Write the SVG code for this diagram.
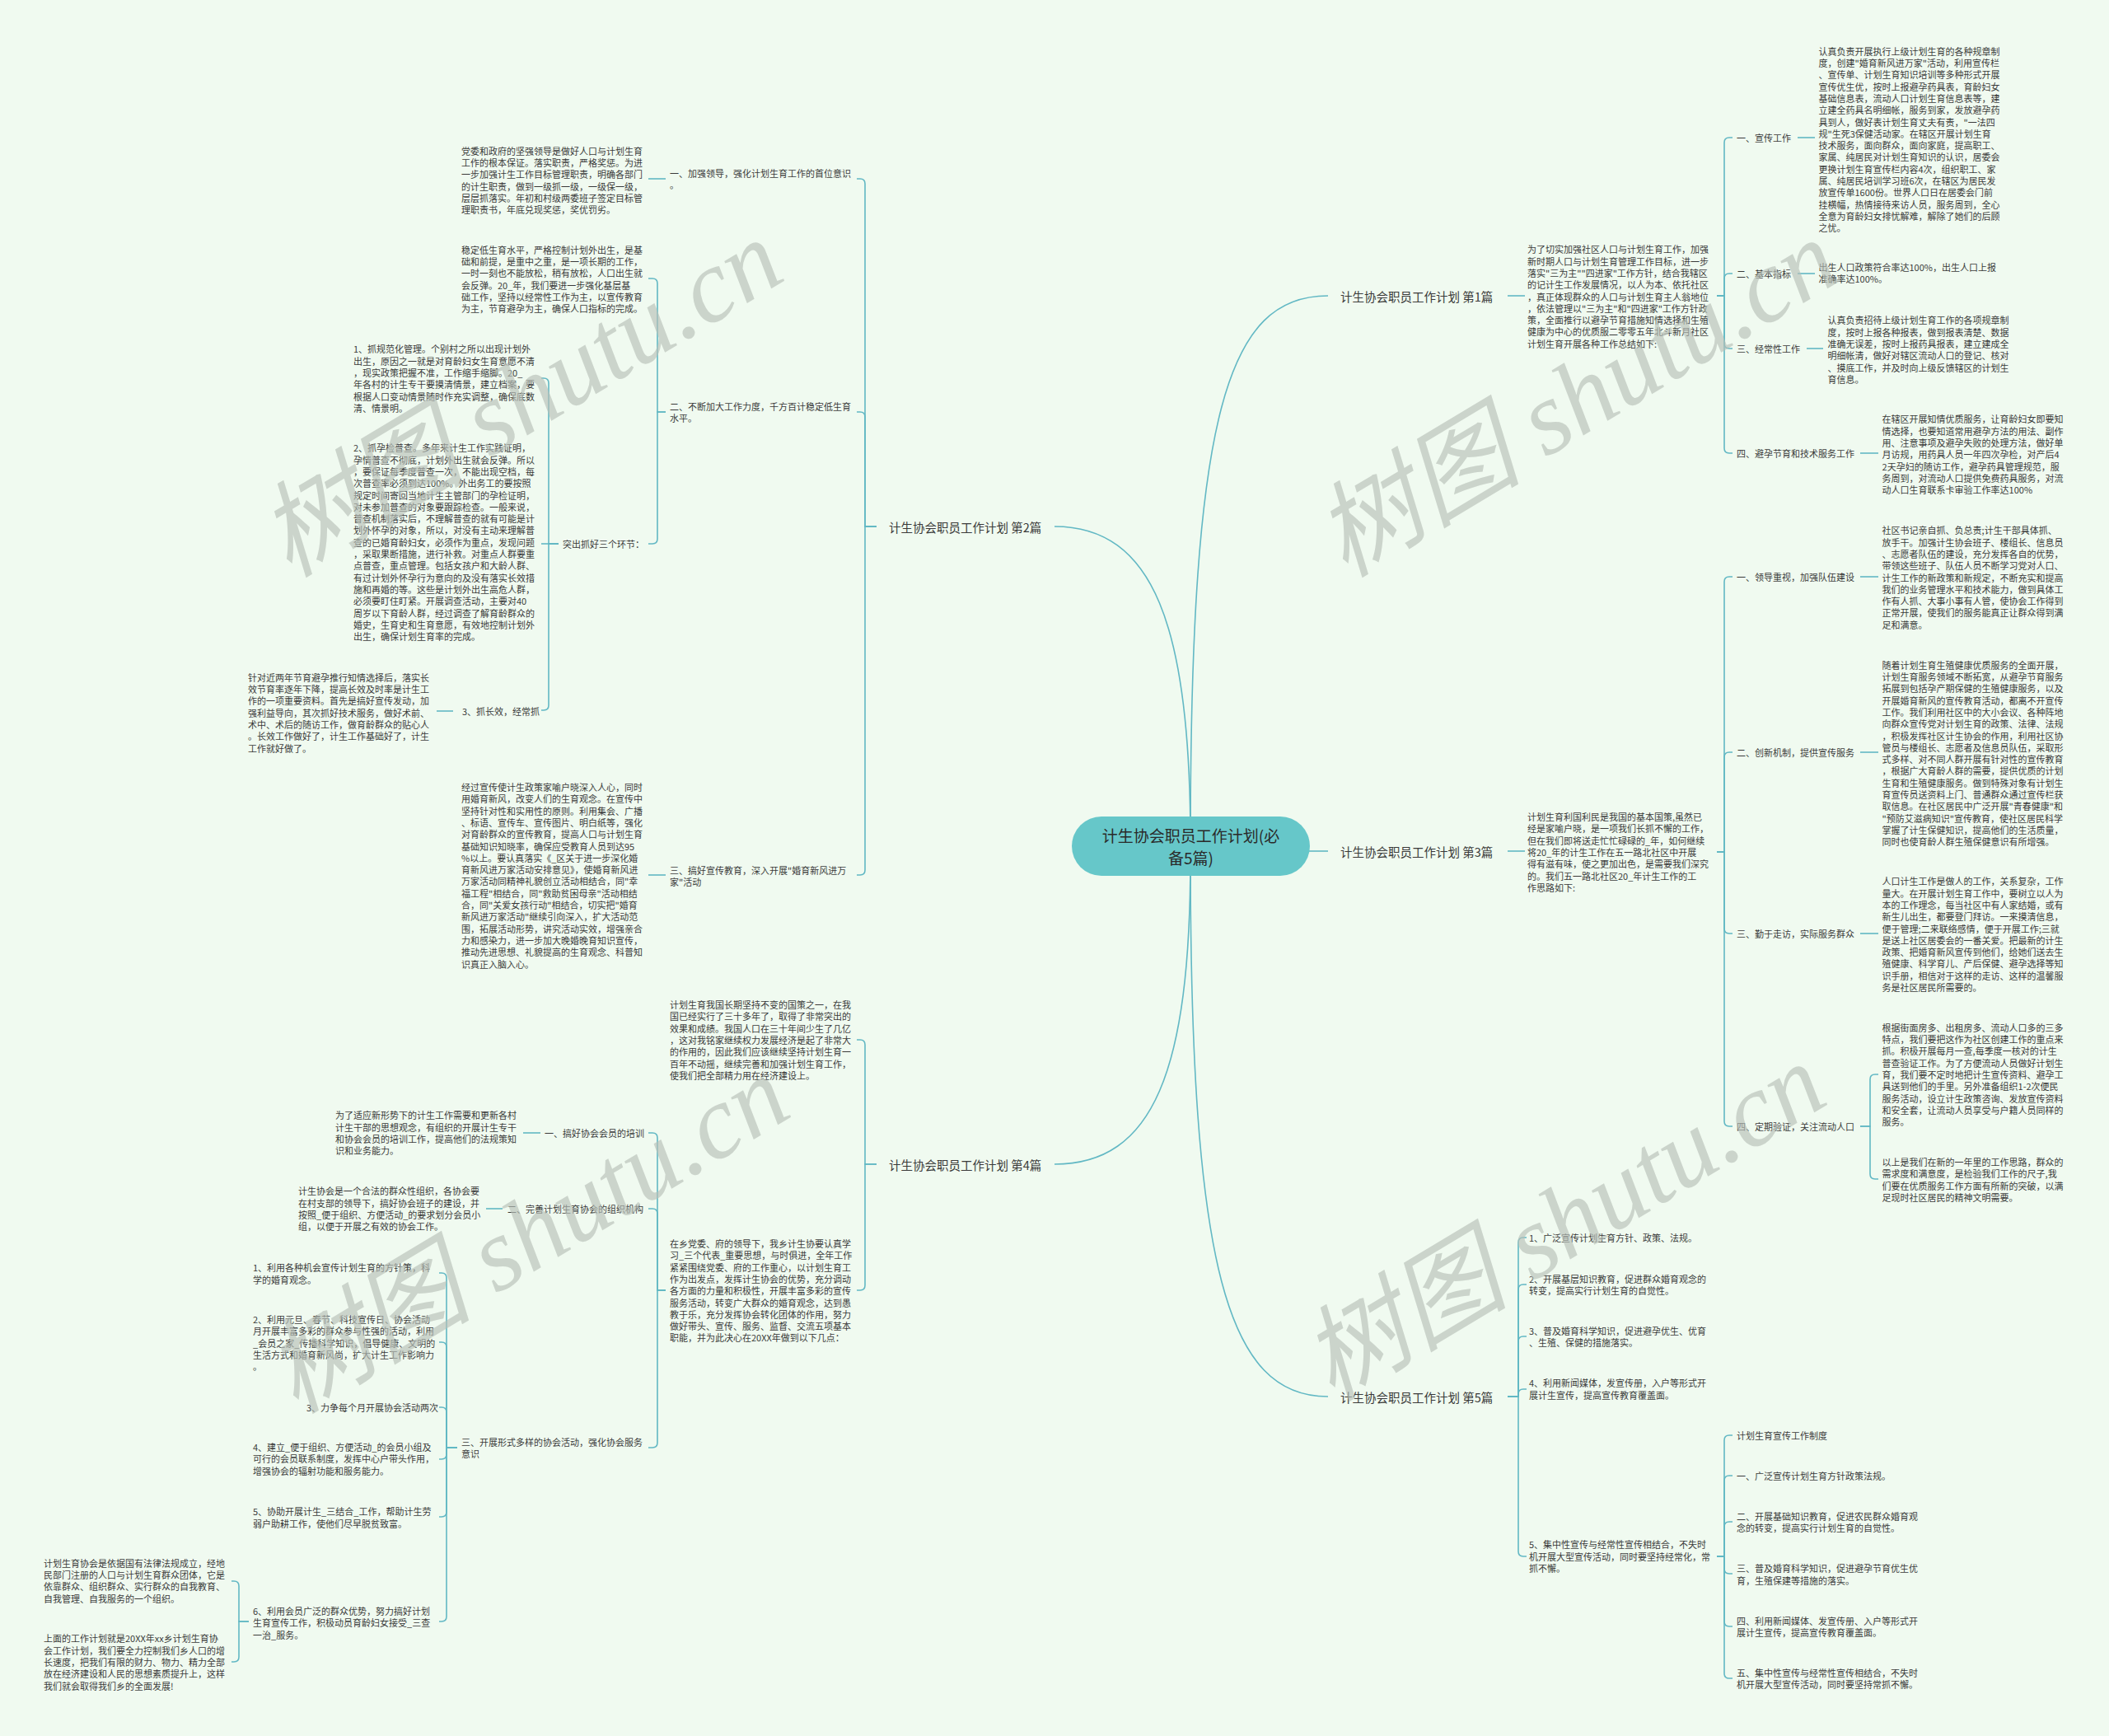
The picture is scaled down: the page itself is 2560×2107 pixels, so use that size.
<svg xmlns="http://www.w3.org/2000/svg" width="2560" height="2107" viewBox="0 0 2560 2107">
<style>
text{font-family:"Noto Sans CJK SC","Liberation Sans",sans-serif;fill:#3a3a3a;dominant-baseline:central}
.t{font-size:11px}
.m{font-size:14.5px}
.c{font-size:19px;fill:#2a2a2a}
.ln{fill:none;stroke:#62b8c4;stroke-width:1.6}
.wm{font-family:"Liberation Serif","Noto Sans CJK SC",serif;font-style:italic;font-size:126px;fill:#b8c0b8;opacity:.65;dominant-baseline:alphabetic}
</style>
<rect width="2560" height="2107" fill="#f0faf0"/>
<g id="connectors">
<path class="ln" d="M1445,1020 C1445,500 1490,359 1612,359"/>
<path class="ln" d="M1589,1033 H1612"/>
<path class="ln" d="M1445,1040 C1445,1540 1490,1695 1612,1695"/>
<path class="ln" d="M1445,1020 C1445,760 1400,639 1280,639"/>
<path class="ln" d="M1445,1040 C1445,1300 1400,1413 1280,1413"/>
<path class="ln" d="M1064,639 H1050 V223 Q1050,217 1044,217 H1040"/>
<path class="ln" d="M1064,639 H1050 V506 Q1050,500 1044,500 H1040"/>
<path class="ln" d="M1064,639 H1050 V1056 Q1050,1062 1044,1062 H1040"/>
<path class="ln" d="M808,217 H787"/>
<path class="ln" d="M808,500 H798 V344 Q798,338 792,338 H787"/>
<path class="ln" d="M808,500 H798 V654 Q798,660 792,660 H787"/>
<path class="ln" d="M678,660 H666 V465 Q666,459 660,459 H657"/>
<path class="ln" d="M678,660 H657"/>
<path class="ln" d="M678,660 H666 V856 Q666,862 660,862 H657"/>
<path class="ln" d="M550,863 H530"/>
<path class="ln" d="M808,1062 H787"/>
<path class="ln" d="M1064,1413 H1050 V1268 Q1050,1262 1044,1262 H1040"/>
<path class="ln" d="M1064,1413 H1050 V1560 Q1050,1566 1044,1566 H1040"/>
<path class="ln" d="M808,1566 H798 V1381 Q798,1375 792,1375 H787"/>
<path class="ln" d="M808,1566 H798 V1473 Q798,1467 792,1467 H787"/>
<path class="ln" d="M808,1566 H798 V1751 Q798,1757 792,1757 H787"/>
<path class="ln" d="M656,1375 H635"/>
<path class="ln" d="M610,1467 H590"/>
<path class="ln" d="M555,1757 H542 V1551 Q542,1545 536,1545 H533"/>
<path class="ln" d="M555,1757 H542 V1635 Q542,1629 536,1629 H533"/>
<path class="ln" d="M555,1757 H542 V1714 Q542,1708 536,1708 H533"/>
<path class="ln" d="M555,1757 H542 V1765 Q542,1771 536,1771 H533"/>
<path class="ln" d="M555,1757 H542 V1835 Q542,1841 536,1841 H533"/>
<path class="ln" d="M555,1757 H542 V1962 Q542,1968 536,1968 H533"/>
<path class="ln" d="M302,1968 H290 V1925 Q290,1919 284,1919 H281"/>
<path class="ln" d="M302,1968 H290 V2011 Q290,2017 284,2017 H281"/>
<path class="ln" d="M1830,359 H1851"/>
<path class="ln" d="M1830,1033 H1851"/>
<path class="ln" d="M2084,359 H2093 V173 Q2093,167 2099,167 H2103"/>
<path class="ln" d="M2084,359 H2093 V338 Q2093,332 2099,332 H2103"/>
<path class="ln" d="M2084,359 H2093 V417 Q2093,423 2099,423 H2103"/>
<path class="ln" d="M2084,359 H2093 V544 Q2093,550 2099,550 H2103"/>
<path class="ln" d="M2182,167 H2203"/>
<path class="ln" d="M2182,332 H2203"/>
<path class="ln" d="M2193,423 H2213"/>
<path class="ln" d="M2258,550 H2280"/>
<path class="ln" d="M2084,1034 H2093 V706 Q2093,700 2099,700 H2103"/>
<path class="ln" d="M2084,1034 H2093 V919 Q2093,913 2099,913 H2103"/>
<path class="ln" d="M2084,1034 H2093 V1127 Q2093,1133 2099,1133 H2103"/>
<path class="ln" d="M2084,1034 H2093 V1361 Q2093,1367 2099,1367 H2103"/>
<path class="ln" d="M2258,700 H2280"/>
<path class="ln" d="M2258,913 H2280"/>
<path class="ln" d="M2258,1133 H2280"/>
<path class="ln" d="M2258,1367 H2270 V1310 Q2270,1304 2276,1304 H2280"/>
<path class="ln" d="M2258,1367 H2270 V1425 Q2270,1431 2276,1431 H2280"/>
<path class="ln" d="M1830,1695 H1843 V1508 Q1843,1502 1849,1502 H1853"/>
<path class="ln" d="M1830,1695 H1843 V1565 Q1843,1559 1849,1559 H1853"/>
<path class="ln" d="M1830,1695 H1843 V1628 Q1843,1622 1849,1622 H1853"/>
<path class="ln" d="M1830,1695 H1843 V1692 Q1843,1686 1849,1686 H1853"/>
<path class="ln" d="M1830,1695 H1843 V1883 Q1843,1889 1849,1889 H1853"/>
<path class="ln" d="M2084,1889 H2093 V1748 Q2093,1742 2099,1742 H2103"/>
<path class="ln" d="M2084,1889 H2093 V1797 Q2093,1791 2099,1791 H2103"/>
<path class="ln" d="M2084,1889 H2093 V1853 Q2093,1847 2099,1847 H2103"/>
<path class="ln" d="M2084,1889 H2093 V1904 Q2093,1910 2099,1910 H2103"/>
<path class="ln" d="M2084,1889 H2093 V1968 Q2093,1974 2099,1974 H2103"/>
<path class="ln" d="M2084,1889 H2093 V2031 Q2093,2037 2099,2037 H2103"/>
</g>
<g id="center">
<rect x="1301" y="991" width="289" height="72" rx="36" fill="#66c7c9"/>
<text class="c" x="1445.5" y="1013" text-anchor="middle">计生协会职员工作计划(必</text>
<text class="c" x="1445.5" y="1040" text-anchor="middle">备5篇)</text>
</g>
<g id="p1"><text class="m" x="1627" y="359">计生协会职员工作计划 第1篇</text></g>
<g id="p2"><text class="m" x="1079" y="639">计生协会职员工作计划 第2篇</text></g>
<g id="p3"><text class="m" x="1627" y="1033">计生协会职员工作计划 第3篇</text></g>
<g id="p4"><text class="m" x="1079" y="1413">计生协会职员工作计划 第4篇</text></g>
<g id="p5"><text class="m" x="1627" y="1695">计生协会职员工作计划 第5篇</text></g>

<g id="n2-1"><text class="t" x="813" y="210"><tspan x="813">一、加强领导，强化计划生育工作的首位意识</tspan><tspan x="813" dy="14.3">。</tspan></text></g>
<g id="n2-1a"><text class="t" x="560" y="182.7"><tspan x="560">党委和政府的坚强领导是做好人口与计划生育</tspan><tspan x="560" dy="14.3">工作的根本保证。落实职责，严格奖惩。为进</tspan><tspan x="560" dy="14.3">一步加强计生工作目标管理职责，明确各部门</tspan><tspan x="560" dy="14.3">的计生职责，做到一级抓一级，一级保一级，</tspan><tspan x="560" dy="14.3">层层抓落实。年初和村级两委班子签定目标管</tspan><tspan x="560" dy="14.3">理职责书，年底兑现奖惩，奖优罚劣。</tspan></text></g>
<g id="n2-2"><text class="t" x="813" y="493"><tspan x="813">二、不断加大工作力度，千方百计稳定低生育</tspan><tspan x="813" dy="14.3">水平。</tspan></text></g>
<g id="n2-2a"><text class="t" x="560" y="302.7"><tspan x="560">稳定低生育水平，严格控制计划外出生，是基</tspan><tspan x="560" dy="14.3">础和前提，是重中之重，是一项长期的工作，</tspan><tspan x="560" dy="14.3">一时一刻也不能放松，稍有放松，人口出生就</tspan><tspan x="560" dy="14.3">会反弹。20_年，我们要进一步强化基层基</tspan><tspan x="560" dy="14.3">础工作，坚持以经常性工作为主，以宣传教育</tspan><tspan x="560" dy="14.3">为主，节育避孕为主，确保人口指标的完成。</tspan></text></g>
<g id="n2-2b"><text class="t" x="782" y="660" text-anchor="end">突出抓好三个环节：</text></g>
<g id="n2-2b1"><text class="t" x="429" y="423.3"><tspan x="429">1、抓规范化管理。个别村之所以出现计划外</tspan><tspan x="429" dy="14.3">出生，原因之一就是对育龄妇女生育意愿不清</tspan><tspan x="429" dy="14.3">，现实政策把握不准，工作缩手缩脚。20_</tspan><tspan x="429" dy="14.3">年各村的计生专干要摸清情景，建立档案，要</tspan><tspan x="429" dy="14.3">根据人口变动情景随时作充实调整，确保底数</tspan><tspan x="429" dy="14.3">清、情景明。</tspan></text></g>
<g id="n2-2b2"><text class="t" x="429" y="543.3"><tspan x="429">2、抓孕检普查。多年来计生工作实践证明，</tspan><tspan x="429" dy="14.3">孕情普查不彻底，计划外出生就会反弹。所以</tspan><tspan x="429" dy="14.3">，要保证每季度普查一次，不能出现空档，每</tspan><tspan x="429" dy="14.3">次普查率必须到达100%。外出务工的要按照</tspan><tspan x="429" dy="14.3">规定时间寄回当地计生主管部门的孕检证明，</tspan><tspan x="429" dy="14.3">对未参加普查的对象要跟踪检查。一般来说，</tspan><tspan x="429" dy="14.3">普查机制落实后，不理解普查的就有可能是计</tspan><tspan x="429" dy="14.3">划外怀孕的对象，所以，对没有主动来理解普</tspan><tspan x="429" dy="14.3">查的已婚育龄妇女，必须作为重点，发现问题</tspan><tspan x="429" dy="14.3">，采取果断措施，进行补救。对重点人群要重</tspan><tspan x="429" dy="14.3">点普查，重点管理。包括女孩户和大龄人群、</tspan><tspan x="429" dy="14.3">有过计划外怀孕行为意向的及没有落实长效措</tspan><tspan x="429" dy="14.3">施和再婚的等。这些是计划外出生高危人群，</tspan><tspan x="429" dy="14.3">必须要盯住盯紧。开展调查活动，主要对40</tspan><tspan x="429" dy="14.3">周岁以下育龄人群，经过调查了解育龄群众的</tspan><tspan x="429" dy="14.3">婚史，生育史和生育意愿，有效地控制计划外</tspan><tspan x="429" dy="14.3">出生，确保计划生育率的完成。</tspan></text></g>
<g id="n2-2b3"><text class="t" x="655" y="863" text-anchor="end">3、抓长效，经常抓</text></g>
<g id="n2-2b3a"><text class="t" x="301" y="821.7"><tspan x="301">针对近两年节育避孕推行知情选择后，落实长</tspan><tspan x="301" dy="14.3">效节育率逐年下降，提高长效及时率是计生工</tspan><tspan x="301" dy="14.3">作的一项重要资料。首先是搞好宣传发动，加</tspan><tspan x="301" dy="14.3">强利益导向，其次抓好技术服务，做好术前、</tspan><tspan x="301" dy="14.3">术中、术后的随访工作，做育龄群众的贴心人</tspan><tspan x="301" dy="14.3">。长效工作做好了，计生工作基础好了，计生</tspan><tspan x="301" dy="14.3">工作就好做了。</tspan></text></g>
<g id="n2-3"><text class="t" x="813" y="1056"><tspan x="813">三、搞好宣传教育，深入开展"婚育新风进万</tspan><tspan x="813" dy="14.3">家"活动</tspan></text></g>
<g id="n2-3a"><text class="t" x="560" y="955"><tspan x="560">经过宣传使计生政策家喻户晓深入人心，同时</tspan><tspan x="560" dy="14.3">用婚育新风，改变人们的生育观念。在宣传中</tspan><tspan x="560" dy="14.3">坚持针对性和实用性的原则。利用集会、广播</tspan><tspan x="560" dy="14.3">、标语、宣传车、宣传图片、明白纸等，强化</tspan><tspan x="560" dy="14.3">对育龄群众的宣传教育，提高人口与计划生育</tspan><tspan x="560" dy="14.3">基础知识知晓率，确保应受教育人员到达95</tspan><tspan x="560" dy="14.3">%以上。要认真落实《_区关于进一步深化婚</tspan><tspan x="560" dy="14.3">育新风进万家活动安排意见》，使婚育新风进</tspan><tspan x="560" dy="14.3">万家活动同精神礼貌创立活动相结合，同"幸</tspan><tspan x="560" dy="14.3">福工程"相结合，同"救助贫困母亲"活动相结</tspan><tspan x="560" dy="14.3">合，同"关爱女孩行动"相结合，切实把"婚育</tspan><tspan x="560" dy="14.3">新风进万家活动"继续引向深入，扩大活动范</tspan><tspan x="560" dy="14.3">围，拓展活动形势，讲究活动实效，增强亲合</tspan><tspan x="560" dy="14.3">力和感染力，进一步加大晚婚晚育知识宣传，</tspan><tspan x="560" dy="14.3">推动先进思想、礼貌提高的生育观念、科普知</tspan><tspan x="560" dy="14.3">识真正入脑入心。</tspan></text></g>

<g id="n4-1"><text class="t" x="813" y="1219"><tspan x="813">计划生育我国长期坚持不变的国策之一，在我</tspan><tspan x="813" dy="14.3">国已经实行了三十多年了，取得了非常突出的</tspan><tspan x="813" dy="14.3">效果和成绩。我国人口在三十年间少生了几亿</tspan><tspan x="813" dy="14.3">，这对我铭家继续权力发展经济是起了非常大</tspan><tspan x="813" dy="14.3">的作用的，因此我们应该继续坚持计划生育一</tspan><tspan x="813" dy="14.3">百年不动摇，继续完善和加强计划生育工作，</tspan><tspan x="813" dy="14.3">使我们把全部精力用在经济建设上。</tspan></text></g>
<g id="n4-2"><text class="t" x="813" y="1509"><tspan x="813">在乡党委、府的领导下，我乡计生协要认真学</tspan><tspan x="813" dy="14.3">习_三个代表_重要思想，与时俱进，全年工作</tspan><tspan x="813" dy="14.3">紧紧围绕党委、府的工作重心，以计划生育工</tspan><tspan x="813" dy="14.3">作为出发点，发挥计生协会的优势，充分调动</tspan><tspan x="813" dy="14.3">各方面的力量和积极性，开展丰富多彩的宣传</tspan><tspan x="813" dy="14.3">服务活动，转变广大群众的婚育观念，达到愚</tspan><tspan x="813" dy="14.3">教于乐，充分发挥协会转化团体的作用，努力</tspan><tspan x="813" dy="14.3">做好带头、宣传、服务、监督、交流五项基本</tspan><tspan x="813" dy="14.3">职能，并为此决心在20XX年做到以下几点：</tspan></text></g>
<g id="n4-2a"><text class="t" x="782" y="1375" text-anchor="end">一、搞好协会会员的培训</text></g>
<g id="n4-2a1"><text class="t" x="407" y="1353.3"><tspan x="407">为了适应新形势下的计生工作需要和更新各村</tspan><tspan x="407" dy="14.3">计生干部的思想观念，有组织的开展计生专干</tspan><tspan x="407" dy="14.3">和协会会员的培训工作，提高他们的法规策知</tspan><tspan x="407" dy="14.3">识和业务能力。</tspan></text></g>
<g id="n4-2b"><text class="t" x="781" y="1467" text-anchor="end">二、完善计划生育协会的组织机构</text></g>
<g id="n4-2b1"><text class="t" x="362" y="1445.3"><tspan x="362">计生协会是一个合法的群众性组织，各协会要</tspan><tspan x="362" dy="14.3">在村支部的领导下，搞好协会班子的建设，并</tspan><tspan x="362" dy="14.3">按照_便于组织、方便活动_的要求划分会员小</tspan><tspan x="362" dy="14.3">组，以便于开展之有效的协会工作。</tspan></text></g>
<g id="n4-2c"><text class="t" x="560" y="1750"><tspan x="560">三、开展形式多样的协会活动，强化协会服务</tspan><tspan x="560" dy="14.3">意识</tspan></text></g>
<g id="n4-2c1"><text class="t" x="307" y="1538.3"><tspan x="307">1、利用各种机会宣传计划生育的方针策，科</tspan><tspan x="307" dy="14.3">学的婚育观念。</tspan></text></g>
<g id="n4-2c2"><text class="t" x="307" y="1601"><tspan x="307">2、利用元旦、春节、科技宣传日、协会活动</tspan><tspan x="307" dy="14.3">月开展丰富多彩的群众参与性强的活动，利用</tspan><tspan x="307" dy="14.3">_会员之家_传播科学知识，倡导健康、文明的</tspan><tspan x="307" dy="14.3">生活方式和婚育新风尚，扩大计生工作影响力</tspan><tspan x="307" dy="14.3">。</tspan></text></g>
<g id="n4-2c3"><text class="t" x="532" y="1708" text-anchor="end">3、力争每个月开展协会活动两次</text></g>
<g id="n4-2c4"><text class="t" x="307" y="1756"><tspan x="307">4、建立_便于组织、方便活动_的会员小组及</tspan><tspan x="307" dy="14.3">可行的会员联系制度，发挥中心户带头作用，</tspan><tspan x="307" dy="14.3">增强协会的辐射功能和服务能力。</tspan></text></g>
<g id="n4-2c5"><text class="t" x="307" y="1834.3"><tspan x="307">5、协助开展计生_三结合_工作，帮助计生劳</tspan><tspan x="307" dy="14.3">弱户助耕工作，使他们尽早脱贫致富。</tspan></text></g>
<g id="n4-2c6"><text class="t" x="307" y="1955"><tspan x="307">6、利用会员广泛的群众优势，努力搞好计划</tspan><tspan x="307" dy="14.3">生育宣传工作，积极动员育龄妇女接受_三查</tspan><tspan x="307" dy="14.3">一治_服务。</tspan></text></g>
<g id="n4-2c6a"><text class="t" x="53" y="1896.7"><tspan x="53">计划生育协会是依据国有法律法规成立，经地</tspan><tspan x="53" dy="14.3">民部门注册的人口与计划生育群众团体，它是</tspan><tspan x="53" dy="14.3">依靠群众、组织群众、实行群众的自我教育、</tspan><tspan x="53" dy="14.3">自我管理、自我服务的一个组织。</tspan></text></g>
<g id="n4-2c6b"><text class="t" x="53" y="1988.3"><tspan x="53">上面的工作计划就是20XX年xx乡计划生育协</tspan><tspan x="53" dy="14.3">会工作计划，我们要全力控制我们乡人口的增</tspan><tspan x="53" dy="14.3">长速度，把我们有限的财力、物力、精力全部</tspan><tspan x="53" dy="14.3">放在经济建设和人民的思想素质提升上，这样</tspan><tspan x="53" dy="14.3">我们就会取得我们乡的全面发展!</tspan></text></g>

<g id="n1-0"><text class="t" x="1854" y="302.3"><tspan x="1854">为了切实加强社区人口与计划生育工作，加强</tspan><tspan x="1854" dy="14.3">新时期人口与计划生育管理工作目标，进一步</tspan><tspan x="1854" dy="14.3">落实"三为主""四进家"工作方针，结合我辖区</tspan><tspan x="1854" dy="14.3">的记计生工作发展情况，以人为本、依托社区</tspan><tspan x="1854" dy="14.3">，真正体现群众的人口与计划生育主人翁地位</tspan><tspan x="1854" dy="14.3">，依法管理以"三为主"和"四进家"工作方针政</tspan><tspan x="1854" dy="14.3">策，全面推行以避孕节育措施知情选择和生殖</tspan><tspan x="1854" dy="14.3">健康为中心的优质服二零零五年北斗新月社区</tspan><tspan x="1854" dy="14.3">计划生育开展各种工作总结如下:</tspan></text></g>
<g id="n1-1"><text class="t" x="2108" y="167">一、宣传工作</text></g>
<g id="n1-1a"><text class="t" x="2207.5" y="61.7"><tspan x="2207.5">认真负责开展执行上级计划生育的各种规章制</tspan><tspan x="2207.5" dy="14.3">度，创建"婚育新风进万家"活动，利用宣传栏</tspan><tspan x="2207.5" dy="14.3">、宣传单、计划生育知识培训等多种形式开展</tspan><tspan x="2207.5" dy="14.3">宣传优生优，按时上报避孕药具表，育龄妇女</tspan><tspan x="2207.5" dy="14.3">基础信息表，流动人口计划生育信息表等，建</tspan><tspan x="2207.5" dy="14.3">立建全药具名明细帐，服务到家，发放避孕药</tspan><tspan x="2207.5" dy="14.3">具到人，做好表计划生育丈夫有责，"一法四</tspan><tspan x="2207.5" dy="14.3">规"生死3保健活动家。在辖区开展计划生育</tspan><tspan x="2207.5" dy="14.3">技术服务，面向群众，面向家庭，提高职工、</tspan><tspan x="2207.5" dy="14.3">家属、纯居民对计划生育知识的认识，居委会</tspan><tspan x="2207.5" dy="14.3">更换计划生育宣传栏内容4次，组织职工、家</tspan><tspan x="2207.5" dy="14.3">属、纯居民培训学习班6次，在辖区为居民发</tspan><tspan x="2207.5" dy="14.3">放宣传单1600份。世界人口日在居委会门前</tspan><tspan x="2207.5" dy="14.3">挂横幅，热情接待来访人员，服务周到，全心</tspan><tspan x="2207.5" dy="14.3">全意为育龄妇女排忧解难，解除了她们的后顾</tspan><tspan x="2207.5" dy="14.3">之忧。</tspan></text></g>
<g id="n1-2"><text class="t" x="2108" y="332">二、基本指标</text></g>
<g id="n1-2a"><text class="t" x="2207.5" y="324"><tspan x="2207.5">出生人口政策符合率达100%，出生人口上报</tspan><tspan x="2207.5" dy="14.3">准确率达100%。</tspan></text></g>
<g id="n1-3"><text class="t" x="2108" y="423">三、经常性工作</text></g>
<g id="n1-3a"><text class="t" x="2218.5" y="388.3"><tspan x="2218.5">认真负责招待上级计划生育工作的各项规章制</tspan><tspan x="2218.5" dy="14.3">度，按时上报各种报表，做到报表清楚、数据</tspan><tspan x="2218.5" dy="14.3">准确无误差，按时上报药具报表，建立建成全</tspan><tspan x="2218.5" dy="14.3">明细帐清，做好对辖区流动人口的登记、核对</tspan><tspan x="2218.5" dy="14.3">、摸底工作，并及时向上级反馈辖区的计划生</tspan><tspan x="2218.5" dy="14.3">育信息。</tspan></text></g>
<g id="n1-4"><text class="t" x="2108" y="550">四、避孕节育和技术服务工作</text></g>
<g id="n1-4a"><text class="t" x="2284.6" y="508.3"><tspan x="2284.6">在辖区开展知情优质服务，让育龄妇女即要知</tspan><tspan x="2284.6" dy="14.3">情选择，也要知道常用避孕方法的用法、副作</tspan><tspan x="2284.6" dy="14.3">用、注意事项及避孕失败的处理方法，做好单</tspan><tspan x="2284.6" dy="14.3">月访规，用药具人员一年四次孕检，对产后4</tspan><tspan x="2284.6" dy="14.3">2天孕妇的随访工作，避孕药具管理规范，服</tspan><tspan x="2284.6" dy="14.3">务周到，对流动人口提供免费药具服务，对流</tspan><tspan x="2284.6" dy="14.3">动人口生育联系卡审验工作率达100%</tspan></text></g>

<g id="n3-0"><text class="t" x="1854" y="991"><tspan x="1854">计划生育利国利民是我国的基本国策,虽然已</tspan><tspan x="1854" dy="14.3">经是家喻户晓，是一项我们长抓不懈的工作，</tspan><tspan x="1854" dy="14.3">但在我们即将送走忙忙碌碌的_年，如何继续</tspan><tspan x="1854" dy="14.3">将20_年的计生工作在五一路北社区中开展</tspan><tspan x="1854" dy="14.3">得有滋有味，使之更加出色，是需要我们深究</tspan><tspan x="1854" dy="14.3">的。我们五一路北社区20_年计生工作的工</tspan><tspan x="1854" dy="14.3">作思路如下:</tspan></text></g>
<g id="n3-1"><text class="t" x="2108" y="700">一、领导重视，加强队伍建设</text></g>
<g id="n3-1a"><text class="t" x="2284.6" y="643.3"><tspan x="2284.6">社区书记亲自抓、负总责;计生干部具体抓、</tspan><tspan x="2284.6" dy="14.3">放手干。加强计生协会班子、楼组长、信息员</tspan><tspan x="2284.6" dy="14.3">、志愿者队伍的建设，充分发挥各自的优势，</tspan><tspan x="2284.6" dy="14.3">带领这些班子、队伍人员不断学习党对人口、</tspan><tspan x="2284.6" dy="14.3">计生工作的新政策和新规定，不断充实和提高</tspan><tspan x="2284.6" dy="14.3">我们的业务管理水平和技术能力，做到具体工</tspan><tspan x="2284.6" dy="14.3">作有人抓、大事小事有人管，使协会工作得到</tspan><tspan x="2284.6" dy="14.3">正常开展，使我们的服务能真正让群众得到满</tspan><tspan x="2284.6" dy="14.3">足和满意。</tspan></text></g>
<g id="n3-2"><text class="t" x="2108" y="913">二、创新机制，提供宣传服务</text></g>
<g id="n3-2a"><text class="t" x="2284.6" y="806.7"><tspan x="2284.6">随着计划生育生殖健康优质服务的全面开展，</tspan><tspan x="2284.6" dy="14.3">计划生育服务领域不断拓宽，从避孕节育服务</tspan><tspan x="2284.6" dy="14.3">拓展到包括孕产期保健的生殖健康服务，以及</tspan><tspan x="2284.6" dy="14.3">开展婚育新风的宣传教育活动，都离不开宣传</tspan><tspan x="2284.6" dy="14.3">工作。我们利用社区中的大小会议、各种阵地</tspan><tspan x="2284.6" dy="14.3">向群众宣传党对计划生育的政策、法律、法规</tspan><tspan x="2284.6" dy="14.3">，积极发挥社区计生协会的作用，利用社区协</tspan><tspan x="2284.6" dy="14.3">管员与楼组长、志愿者及信息员队伍，采取形</tspan><tspan x="2284.6" dy="14.3">式多样、对不同人群开展有针对性的宣传教育</tspan><tspan x="2284.6" dy="14.3">，根据广大育龄人群的需要，提供优质的计划</tspan><tspan x="2284.6" dy="14.3">生育和生殖健康服务。做到特殊对象有计划生</tspan><tspan x="2284.6" dy="14.3">育宣传员送资料上门、普通群众通过宣传栏获</tspan><tspan x="2284.6" dy="14.3">取信息。在社区居民中广泛开展"青春健康"和</tspan><tspan x="2284.6" dy="14.3">"预防艾滋病知识"宣传教育，使社区居民科学</tspan><tspan x="2284.6" dy="14.3">掌握了计生保健知识，提高他们的生活质量，</tspan><tspan x="2284.6" dy="14.3">同时也使育龄人群生殖保健意识有所增强。</tspan></text></g>
<g id="n3-3"><text class="t" x="2108" y="1133">三、勤于走访，实际服务群众</text></g>
<g id="n3-3a"><text class="t" x="2284.6" y="1069.3"><tspan x="2284.6">人口计生工作是做人的工作，关系复杂，工作</tspan><tspan x="2284.6" dy="14.3">量大。在开展计划生育工作中，要树立以人为</tspan><tspan x="2284.6" dy="14.3">本的工作理念，每当社区中有人家结婚，或有</tspan><tspan x="2284.6" dy="14.3">新生儿出生，都要登门拜访。一来摸清信息，</tspan><tspan x="2284.6" dy="14.3">便于管理;二来联络感情，便于开展工作;三就</tspan><tspan x="2284.6" dy="14.3">是送上社区居委会的一番关爱。把最新的计生</tspan><tspan x="2284.6" dy="14.3">政策、把婚育新风宣传到他们，给她们送去生</tspan><tspan x="2284.6" dy="14.3">殖健康、科学育儿、产后保健、避孕选择等知</tspan><tspan x="2284.6" dy="14.3">识手册，相信对于这样的走访、这样的温馨服</tspan><tspan x="2284.6" dy="14.3">务是社区居民所需要的。</tspan></text></g>
<g id="n3-4"><text class="t" x="2108" y="1367">四、定期验证，关注流动人口</text></g>
<g id="n3-4a"><text class="t" x="2284.6" y="1246.7"><tspan x="2284.6">根据街面房多、出租房多、流动人口多的三多</tspan><tspan x="2284.6" dy="14.3">特点，我们要把这作为社区创建工作的重点来</tspan><tspan x="2284.6" dy="14.3">抓。积极开展每月一查,每季度一核对的计生</tspan><tspan x="2284.6" dy="14.3">普查验证工作。为了方便流动人员做好计划生</tspan><tspan x="2284.6" dy="14.3">育，我们要不定时地把计生宣传资料、避孕工</tspan><tspan x="2284.6" dy="14.3">具送到他们的手里。另外准备组织1-2次便民</tspan><tspan x="2284.6" dy="14.3">服务活动，设立计生政策咨询、发放宣传资料</tspan><tspan x="2284.6" dy="14.3">和安全套，让流动人员享受与户籍人员同样的</tspan><tspan x="2284.6" dy="14.3">服务。</tspan></text></g>
<g id="n3-4b"><text class="t" x="2284.6" y="1410"><tspan x="2284.6">以上是我们在新的一年里的工作思路，群众的</tspan><tspan x="2284.6" dy="14.3">需求度和满意度，是检验我们工作的尺子,我</tspan><tspan x="2284.6" dy="14.3">们要在优质服务工作方面有所新的突破，以满</tspan><tspan x="2284.6" dy="14.3">足现时社区居民的精神文明需要。</tspan></text></g>

<g id="n5-1"><text class="t" x="1856" y="1502">1、广泛宣传计划生育方针、政策、法规。</text></g>
<g id="n5-2"><text class="t" x="1856" y="1551.7"><tspan x="1856">2、开展基层知识教育，促进群众婚育观念的</tspan><tspan x="1856" dy="14.3">转变，提高实行计划生育的自觉性。</tspan></text></g>
<g id="n5-3"><text class="t" x="1856" y="1615"><tspan x="1856">3、普及婚育科学知识，促进避孕优生、优育</tspan><tspan x="1856" dy="14.3">、生殖、保健的措施落实。</tspan></text></g>
<g id="n5-4"><text class="t" x="1856" y="1678.3"><tspan x="1856">4、利用新闻媒体，发宣传册，入户等形式开</tspan><tspan x="1856" dy="14.3">展计生宣传，提高宣传教育覆盖面。</tspan></text></g>
<g id="n5-5"><text class="t" x="1856" y="1874.3"><tspan x="1856">5、集中性宣传与经常性宣传相结合，不失时</tspan><tspan x="1856" dy="14.3">机开展大型宣传活动，同时要坚持经常化，常</tspan><tspan x="1856" dy="14.3">抓不懈。</tspan></text></g>
<g id="n5-5a"><text class="t" x="2108" y="1742">计划生育宣传工作制度</text></g>
<g id="n5-5b"><text class="t" x="2108" y="1791">一、广泛宣传计划生育方针政策法规。</text></g>
<g id="n5-5c"><text class="t" x="2108" y="1840"><tspan x="2108">二、开展基础知识教育，促进农民群众婚育观</tspan><tspan x="2108" dy="14.3">念的转变，提高实行计划生育的自觉性。</tspan></text></g>
<g id="n5-5d"><text class="t" x="2108" y="1903.3"><tspan x="2108">三、普及婚育科学知识，促进避孕节育优生优</tspan><tspan x="2108" dy="14.3">育，生殖保建等措施的落实。</tspan></text></g>
<g id="n5-5e"><text class="t" x="2108" y="1966.7"><tspan x="2108">四、利用新闻媒体、发宣传册、入户等形式开</tspan><tspan x="2108" dy="14.3">展计生宣传，提高宣传教育覆盖面。</tspan></text></g>
<g id="n5-5f"><text class="t" x="2108" y="2030"><tspan x="2108">五、集中性宣传与经常性宣传相结合，不失时</tspan><tspan x="2108" dy="14.3">机开展大型宣传活动，同时要坚持常抓不懈。</tspan></text></g>

<g id="watermarks">
<text class="wm" transform="translate(351,702) rotate(-31)">树图 shutu.cn</text>
<text class="wm" transform="translate(1633,702) rotate(-31)">树图 shutu.cn</text>
<text class="wm" transform="translate(359,1717) rotate(-31)">树图 shutu.cn</text>
<text class="wm" transform="translate(1617,1702) rotate(-31)">树图 shutu.cn</text>
</g>
</svg>
